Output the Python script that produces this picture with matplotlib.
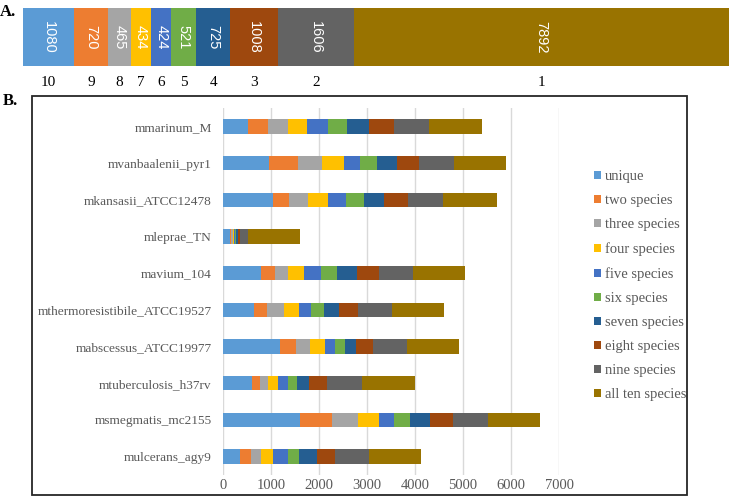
import matplotlib
matplotlib.use("Agg")
import matplotlib.pyplot as plt
from matplotlib.patches import Rectangle, Patch
import numpy as np

# ---- Panel A data ----
group_values = [1080, 720, 465, 434, 424, 521, 725, 1008, 1606, 7892]
group_labels = ["10", "9", "8", "7", "6", "5", "4", "3", "2", "1"]

# ---- Panel B data ----
species = ["mmarinum_M", "mvanbaalenii_pyr1", "mkansasii_ATCC12478", "mleprae_TN",
           "mavium_104", "mthermoresistibile_ATCC19527", "mabscessus_ATCC19977",
           "mtuberculosis_h37rv", "msmegmatis_mc2155", "mulcerans_agy9"]
series_names = ["unique", "two species", "three species", "four species", "five species",
                "six species", "seven species", "eight species", "nine species", "all ten species"]
unique_ = [523, 955, 1052, 139, 787, 641, 1178, 606, 1610, 348]
two_sp = [418, 599, 321, 30, 293, 279, 334, 161, 669, 230]
three_sp = [404, 516, 397, 35, 272, 341, 300, 174, 543, 216]
four_sp = [404, 453, 411, 20, 341, 328, 313, 202, 425, 251]
five_sp = [432, 334, 383, 20, 349, 244, 216, 209, 321, 307]
six_sp = [411, 342, 377, 25, 334, 272, 196, 195, 334, 237]
seven_sp = [446, 418, 418, 35, 418, 320, 230, 244, 412, 362]
eight_sp = [523, 467, 488, 50, 446, 397, 355, 383, 480, 383]
nine_sp = [739, 731, 738, 161, 718, 704, 704, 732, 725, 711]
ten_sp = [1087, 1087, 1115, 1087, 1080, 1087, 1087, 1087, 1080, 1087]
series = [unique_, two_sp, three_sp, four_sp, five_sp, six_sp, seven_sp, eight_sp, nine_sp, ten_sp]

colors = ["#5B9BD5", "#ED7D31", "#A5A5A5", "#FFC000", "#4472C4",
          "#70AD47", "#255E91", "#9E480E", "#636363", "#997300"]

serif = ["Liberation Serif", "DejaVu Serif"]
sans = ["Liberation Sans", "DejaVu Sans"]
gray_txt = "#595959"

W, H = 731, 499
fig = plt.figure(figsize=(W / 100, H / 100), dpi=100)

# ---------- Panel A ----------
axA = fig.add_axes([23 / W, 1 - 66 / H, 706 / W, 58 / H])
left = 0
for v, c, lab in zip(group_values, colors, group_labels):
    axA.barh(0, v, left=left, height=1.0, color=c, edgecolor="none")
    axA.text(left + v / 2, 0, str(v), rotation=270, ha="center", va="center",
             color="white", fontsize=10.5, family=sans)
    axA.text(left + v / 2, -0.78, lab, ha="center", va="center", color="black",
             fontsize=11, family=serif)
    left += v
axA.set_xlim(0, sum(group_values))
axA.set_ylim(-0.5, 0.5)
axA.axis("off")

fig.text(0 / W, 1 - 12 / H, "A.", fontsize=12, fontweight="bold", family=serif,
         ha="left", va="center")
fig.text(3 / W, 1 - 101 / H, "B.", fontsize=12, fontweight="bold", family=serif,
         ha="left", va="center")

# box around panel B
fig.patches.append(Rectangle((32 / W, 1 - 495 / H), (687 - 32) / W, (495 - 96) / H,
                             transform=fig.transFigure, fill=False,
                             edgecolor="#262626", linewidth=1.3))

# ---------- Panel B ----------
axB = fig.add_axes([223 / W, 1 - 475 / H, (559 - 223) / W, (475 - 108) / H])
y = np.arange(len(species))
lefts = np.zeros(len(species))
handles = []
for vals, c, name in zip(series, colors, series_names):
    vals = np.array(vals, dtype=float)
    axB.barh(y, vals, left=lefts, height=0.39, color=c, edgecolor="none", zorder=3)
    lefts += vals
    handles.append(Patch(facecolor=c, edgecolor="none", label=name))

axB.set_xlim(0, 7000)
axB.set_ylim(len(species) - 0.5, -0.5)
axB.set_yticks(y)
axB.set_yticklabels(species, family=serif, fontsize=9.6, color=gray_txt)
axB.set_xticks(np.arange(0, 7001, 1000))
axB.set_xticklabels([str(v) for v in range(0, 7001, 1000)], family=serif,
                    fontsize=10.5, color=gray_txt)
axB.tick_params(length=0, pad=8)
axB.tick_params(axis="x", pad=3)
for s in axB.spines.values():
    s.set_visible(False)
axB.grid(axis="x", color="#D9D9D9", linewidth=1.0, zorder=0)
axB.set_axisbelow(True)

leg = fig.legend(handles=handles, loc="upper left",
                 bbox_to_anchor=(594 / W, 1 - 170 / H), frameon=False,
                 prop={"family": serif, "size": 10.5},
                 handlelength=0.5, handleheight=0.5, handletextpad=0.25,
                 labelspacing=0.76, borderaxespad=0, borderpad=0)
for t in leg.get_texts():
    t.set_color(gray_txt)

fig.savefig("out.png", dpi=100)
